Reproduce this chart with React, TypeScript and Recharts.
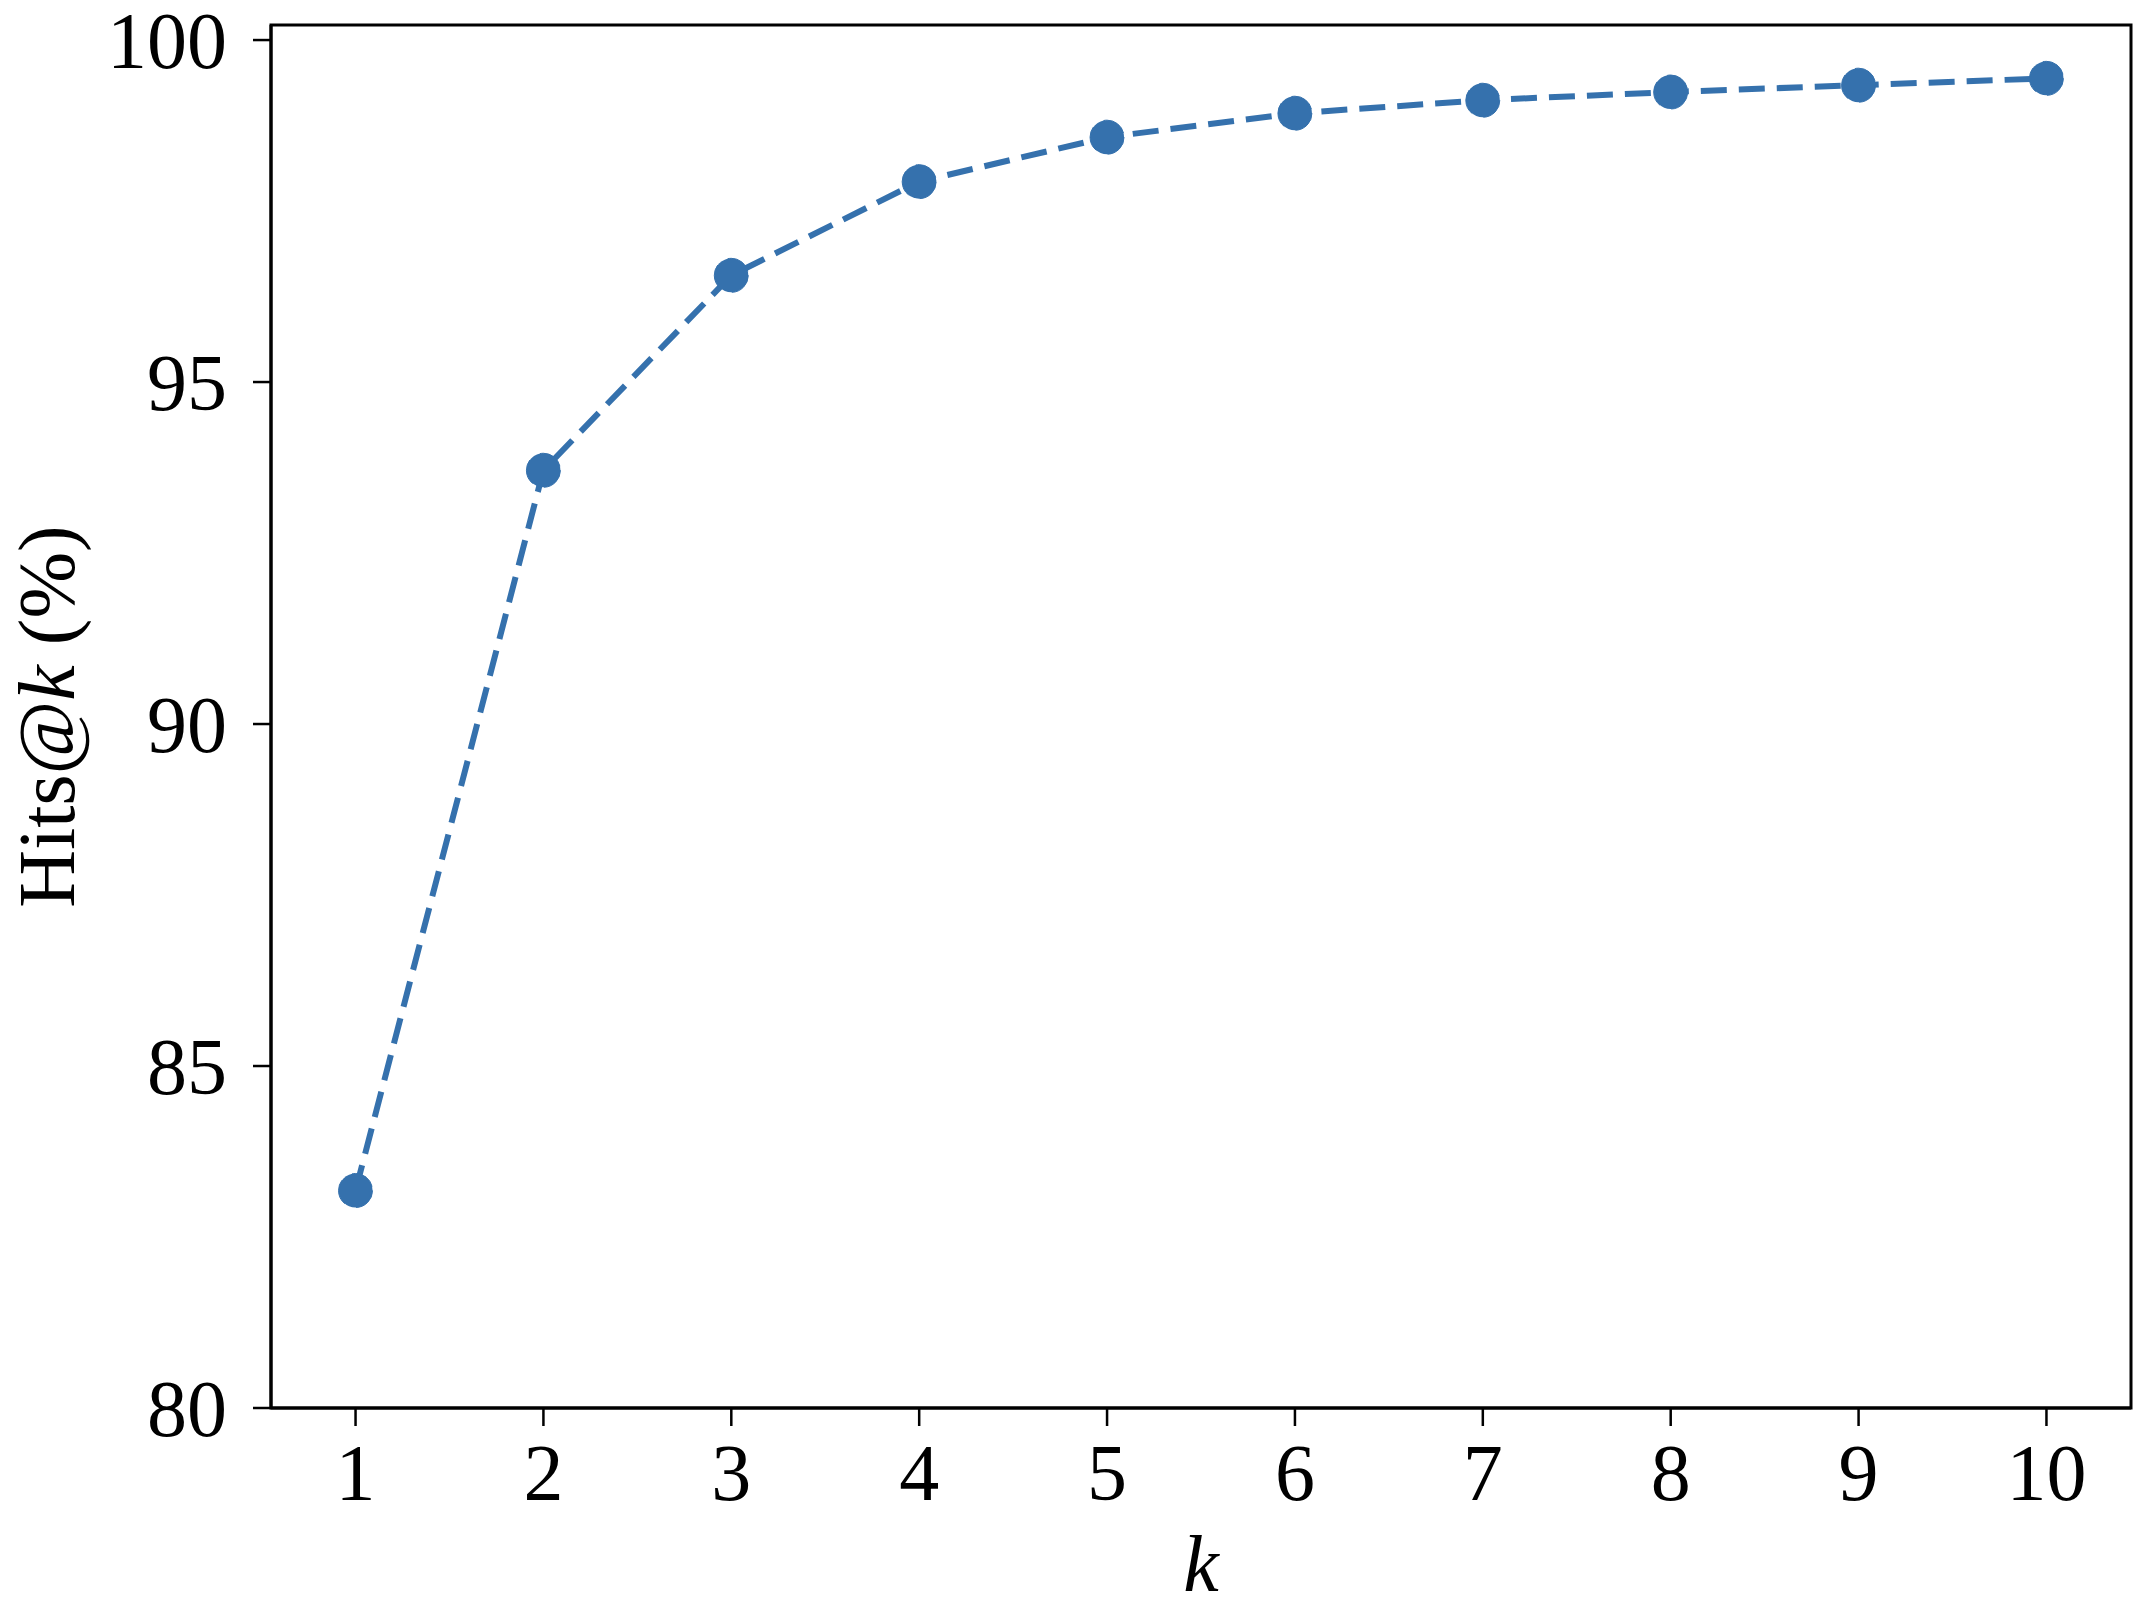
import React from "react";
import { LineChart, Line, XAxis, YAxis, ReferenceArea } from "recharts";

const kValues = [1, 2, 3, 4, 5, 6, 7, 8, 9, 10];
const hitsValues = [83.18, 93.71, 96.56, 97.93, 98.58, 98.93, 99.12, 99.24, 99.34, 99.44];
const xTicks = [1, 2, 3, 4, 5, 6, 7, 8, 9, 10];
const yTicks = [80, 85, 90, 95, 100];

const data = kValues.map((k, i) => ({ k, hits: hitsValues[i] }));

const FONT = "'Liberation Serif', 'DejaVu Serif', serif";
const COLOR = "#3571ad";

const XTick = (props: any) => {
  const { x, y, payload } = props;
  return (
    <text x={x} y={y + 74} textAnchor="middle" fontFamily={FONT} fontSize={80} fill="#000">
      {payload.value}
    </text>
  );
};

const YTick = (props: any) => {
  const { x, y, payload } = props;
  return (
    <text x={x - 26} y={y + 28} textAnchor="end" fontFamily={FONT} fontSize={80} fill="#000">
      {payload.value}
    </text>
  );
};

export default function App() {
  return (
    <div style={{ position: "absolute", left: 0, top: 0, width: 2148, height: 1604, background: "#fff" }}>
      <LineChart width={2148} height={1604} data={data} margin={{ top: 25, right: 17, left: 0, bottom: 0 }}>
        <XAxis
          dataKey="k"
          type="number"
          domain={[0.55, 10.45]}
          ticks={xTicks}
          allowDataOverflow
          height={196}
          tickSize={18}
          tickMargin={0}
          tick={<XTick />}
          axisLine={{ stroke: "#000", strokeWidth: 3 }}
          tickLine={{ stroke: "#000", strokeWidth: 2.5 }}
          label={{ value: "k", position: "insideBottom", offset: 13, fontFamily: FONT, fontSize: 80, fontStyle: "italic", fill: "#000" }}
        />
        <YAxis
          type="number"
          domain={[80, 100.22]}
          ticks={yTicks}
          allowDataOverflow
          width={271}
          tickSize={18}
          tickMargin={0}
          tick={<YTick />}
          axisLine={{ stroke: "#000", strokeWidth: 3 }}
          tickLine={{ stroke: "#000", strokeWidth: 2.5 }}
          label={(props: any) => {
            const vb = props.viewBox || {};
            const cy = (vb.y ?? 25) + (vb.height ?? 1383) / 2;
            return (
              <text
                x={47}
                y={cy}
                transform={`rotate(-90, 47, ${cy})`}
                textAnchor="middle"
                dominantBaseline="central"
                fontFamily={FONT}
                fontSize={80}
                fill="#000"
              >
                Hits@<tspan fontStyle="italic">k</tspan> (%)
              </text>
            );
          }}
        />
        <ReferenceArea x1={0.55} x2={10.45} y1={80} y2={100.22} fill="none" stroke="#000" strokeWidth={3} ifOverflow="visible" />
        <Line
          type="linear"
          dataKey="hits"
          stroke={COLOR}
          strokeWidth={6}
          strokeDasharray="26 12"
          dot={{ r: 17, fill: COLOR, stroke: COLOR, strokeWidth: 1 }}
          activeDot={false}
          isAnimationActive={false}
        />
      </LineChart>
    </div>
  );
}
